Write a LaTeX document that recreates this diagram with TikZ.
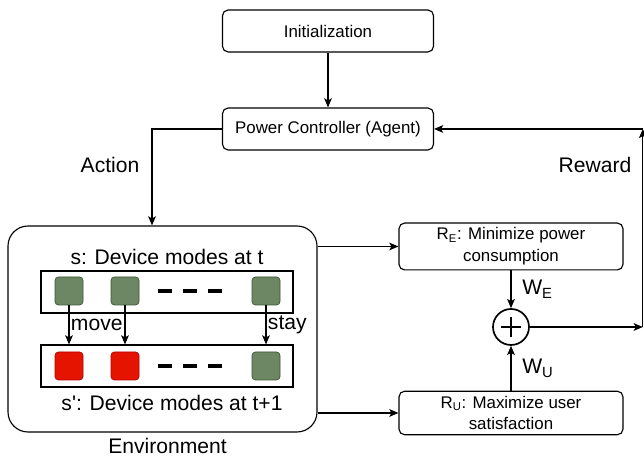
\documentclass[tikz,border=0pt]{standalone}
\usepackage{fontspec}
\setmainfont{Liberation Sans}
\usetikzlibrary{positioning, calc, arrows.meta}
\definecolor{devgreen}{HTML}{6D8764}
\definecolor{devgreenline}{HTML}{3A5431}
\definecolor{devred}{HTML}{E51400}
\definecolor{devredline}{HTML}{B20000}

\begin{document}
\begin{tikzpicture}[>={Stealth[length=6.5pt, width=5.5pt, inset=1.5pt]}, line width=0.8pt,
    box/.style={draw, rounded corners=4pt, minimum width=5.275cm, minimum height=1.05cm, align=center, font=\fontsize{12}{15.5}\selectfont},
    rbox/.style={box, minimum width=5.6cm, minimum height=1.075cm},
    row/.style={draw, minimum width=6.3cm, minimum height=1.05cm},
    lbl/.style={font=\fontsize{15}{18}\selectfont},
    devon/.style={draw=devgreenline, fill=devgreen, rounded corners=2.5pt, minimum size=0.7cm, inner sep=0pt, line width=0.5pt},
    devoff/.style={devon, draw=devredline, fill=devred}]
    \useasboundingbox (0,0) rectangle (16.1,11.5);

    \path (8.2, 10.725) node[box] (init) {Initialization};
    \path (8.2, 8.275) node[box] (agent) {Power Controller (Agent)};
    \path (2.75, 7.375) node[lbl] (action) {Action};
    \path (14.875, 7.375) node[lbl] (reward) {Reward};

    \path (4.0625, 3.275) node[draw, rounded corners=0.5cm, minimum width=7.725cm, minimum height=5.15cm] (env) {};
    \path (4.19, 0.35) node[lbl] (envlabel) {Environment};
    \path (4.175, 5.075) node[lbl] (stext) {s: Device modes at t};
    \path (4.3, 1.425) node[lbl] (sntext) {s\textquotesingle: Device modes at t+1};
    \path (4.175, 4.2) node[row] (rowa) {};
    \path (4.175, 2.35) node[row] (rowb) {};

    \path (1.725, 4.225) node[devon] (a1) {};
    \path (3.125, 4.225) node[devon] (a2) {};
    \path (6.65, 4.225) node[devon] (a3) {};
    \path (1.725, 2.35) node[devoff] (b1) {};
    \path (3.125, 2.35) node[devoff] (b2) {};
    \path (6.65, 2.35) node[devon] (b3) {};
    \draw[line width=2.8pt, dash pattern=on 0.34cm off 0.29cm] (3.95, 4.225) -- (5.55, 4.225);
    \draw[line width=2.8pt, dash pattern=on 0.34cm off 0.29cm] (3.95, 2.35) -- (5.55, 2.35);

    \draw[->] (a1.south) -- (a1.south |- rowb.north) node[midway, right, lbl, inner sep=1pt] {move};
    \draw[->] (a2.south) -- (a2.south |- rowb.north);
    \draw[->] (a3.south) -- (a3.south |- rowb.north) node[midway, right, lbl, inner sep=1pt] {stay};

    \path (12.775, 5.3375) node[rbox] (re) {R\textsubscript{E}: Minimize power\\consumption};
    \path (12.775, 1.175) node[rbox] (ru) {R\textsubscript{U}: Maximize user\\satisfaction};
    \path (12.775, 3.325) node[circle, draw, line width=1.2pt, minimum size=0.9cm, inner sep=0pt] (sum) {};
    \draw[line width=1.4pt] ($(sum)+(-0.24,0)$) -- ($(sum)+(0.24,0)$);
    \draw[line width=1.4pt] ($(sum)+(0,-0.24)$) -- ($(sum)+(0,0.24)$);

    \coordinate (out) at (16.07, 3.325);
    \coordinate (top) at (out |- agent.east);

    \draw[->] (init) -- (agent);
    \draw[->] (agent.west) -| ($(env.north)+(-0.2625,0)$);
    \draw[->] (re.west -| env.east) -- (re.west);
    \draw[->] (ru.west -| env.east) -- (ru.west);
    \draw[->] (re) -- (sum) node[midway, right=0.15cm, lbl] {W\textsubscript{E}};
    \draw[->] (ru) -- (sum) node[midway, right=0.15cm, lbl] {W\textsubscript{U}};
    \draw[->] (sum) -- (out);
    \draw[->] (out) -- (top);
    \draw[->] (top) -- (agent.east);
\end{tikzpicture}
\end{document}
